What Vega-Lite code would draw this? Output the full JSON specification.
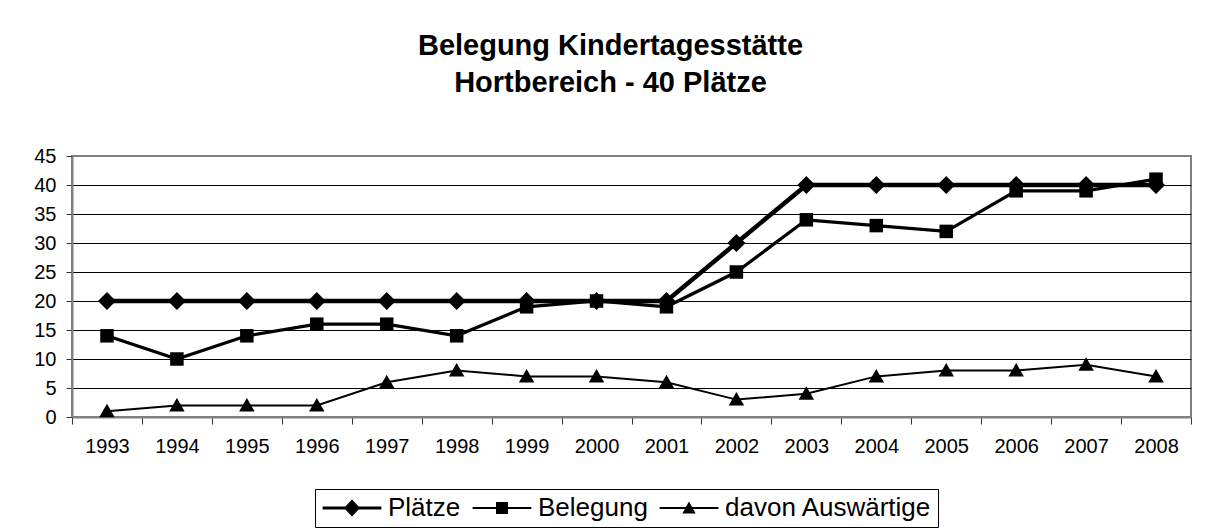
{
  "$schema": "https://vega.github.io/schema/vega-lite/v6.json",
  "autosize": "none",
  "width": 1119,
  "height": 261,
  "padding": {"left": 72, "top": 156, "right": 23, "bottom": 114},
  "background": "white",
  "title": {
    "text": ["Belegung Kindertagesstätte", "Hortbereich - 40 Plätze"],
    "font": "Liberation Sans",
    "fontSize": 29,
    "fontWeight": "bold",
    "color": "black",
    "anchor": "middle",
    "dx": -21,
    "offset": 48,
    "lineHeight": 37
  },
  "config": {
    "view": {"stroke": "#808080", "strokeWidth": 2},
    "font": "Liberation Sans"
  },
  "data": {
    "values": [
      {"year": "1993", "series": "Plätze", "value": 20},
      {"year": "1994", "series": "Plätze", "value": 20},
      {"year": "1995", "series": "Plätze", "value": 20},
      {"year": "1996", "series": "Plätze", "value": 20},
      {"year": "1997", "series": "Plätze", "value": 20},
      {"year": "1998", "series": "Plätze", "value": 20},
      {"year": "1999", "series": "Plätze", "value": 20},
      {"year": "2000", "series": "Plätze", "value": 20},
      {"year": "2001", "series": "Plätze", "value": 20},
      {"year": "2002", "series": "Plätze", "value": 30},
      {"year": "2003", "series": "Plätze", "value": 40},
      {"year": "2004", "series": "Plätze", "value": 40},
      {"year": "2005", "series": "Plätze", "value": 40},
      {"year": "2006", "series": "Plätze", "value": 40},
      {"year": "2007", "series": "Plätze", "value": 40},
      {"year": "2008", "series": "Plätze", "value": 40},
      {"year": "1993", "series": "Belegung", "value": 14},
      {"year": "1994", "series": "Belegung", "value": 10},
      {"year": "1995", "series": "Belegung", "value": 14},
      {"year": "1996", "series": "Belegung", "value": 16},
      {"year": "1997", "series": "Belegung", "value": 16},
      {"year": "1998", "series": "Belegung", "value": 14},
      {"year": "1999", "series": "Belegung", "value": 19},
      {"year": "2000", "series": "Belegung", "value": 20},
      {"year": "2001", "series": "Belegung", "value": 19},
      {"year": "2002", "series": "Belegung", "value": 25},
      {"year": "2003", "series": "Belegung", "value": 34},
      {"year": "2004", "series": "Belegung", "value": 33},
      {"year": "2005", "series": "Belegung", "value": 32},
      {"year": "2006", "series": "Belegung", "value": 39},
      {"year": "2007", "series": "Belegung", "value": 39},
      {"year": "2008", "series": "Belegung", "value": 41},
      {"year": "1993", "series": "davon Auswärtige", "value": 1},
      {"year": "1994", "series": "davon Auswärtige", "value": 2},
      {"year": "1995", "series": "davon Auswärtige", "value": 2},
      {"year": "1996", "series": "davon Auswärtige", "value": 2},
      {"year": "1997", "series": "davon Auswärtige", "value": 6},
      {"year": "1998", "series": "davon Auswärtige", "value": 8},
      {"year": "1999", "series": "davon Auswärtige", "value": 7},
      {"year": "2000", "series": "davon Auswärtige", "value": 7},
      {"year": "2001", "series": "davon Auswärtige", "value": 6},
      {"year": "2002", "series": "davon Auswärtige", "value": 3},
      {"year": "2003", "series": "davon Auswärtige", "value": 4},
      {"year": "2004", "series": "davon Auswärtige", "value": 7},
      {"year": "2005", "series": "davon Auswärtige", "value": 8},
      {"year": "2006", "series": "davon Auswärtige", "value": 8},
      {"year": "2007", "series": "davon Auswärtige", "value": 9},
      {"year": "2008", "series": "davon Auswärtige", "value": 7}
    ]
  },
  "encoding": {
    "x": {
      "field": "year",
      "type": "ordinal",
      "scale": {"type": "band", "paddingInner": 0, "paddingOuter": 0},
      "axis": {
        "title": null,
        "labelAngle": 0,
        "labelFontSize": 20,
        "labelColor": "black",
        "labelPadding": 12,
        "tickBand": "extent",
        "ticks": true,
        "tickSize": 7,
        "tickColor": "#333333",
        "domainColor": "#808080",
        "domainWidth": 2,
        "grid": false
      }
    },
    "y": {
      "field": "value",
      "type": "quantitative",
      "scale": {"domain": [0, 45], "nice": false},
      "axis": {
        "title": null,
        "values": [0, 5, 10, 15, 20, 25, 30, 35, 40, 45],
        "labelFontSize": 20,
        "labelColor": "black",
        "labelPadding": 10,
        "tickSize": 6,
        "tickColor": "#333333",
        "domainColor": "#808080",
        "domainWidth": 2,
        "grid": true,
        "gridColor": {"condition": {"test": "datum.value === 45", "value": "#808080"}, "value": "black"},
        "gridWidth": 1.2,
        "gridOpacity": 1
      }
    }
  },
  "layer": [
    {
      "mark": {"type": "line", "color": "black"},
      "encoding": {
        "detail": {"field": "series"},
        "strokeWidth": {
          "field": "series",
          "type": "nominal",
          "scale": {"domain": ["Plätze", "Belegung", "davon Auswärtige"], "range": [4.5, 2, 2]},
          "legend": null
        }
      }
    },
    {
      "mark": {"type": "point", "filled": true, "color": "black", "opacity": 1, "size": 100},
      "encoding": {
        "shape": {
          "field": "series",
          "type": "nominal",
          "scale": {
            "domain": ["Plätze", "Belegung", "davon Auswärtige"],
            "range": [
              "M0,-1.8L1.8,0L0,1.8L-1.8,0Z",
              "M-1.35,-1.35H1.35V1.35H-1.35Z",
              "M0,-1.5L1.55,1.2H-1.55Z"
            ]
          },
          "legend": null
        }
      }
    },
    {
      "mark": {"type": "point", "filled": true, "color": "black", "opacity": 0, "size": 144},
      "encoding": {
        "shape": {
          "field": "series",
          "type": "nominal",
          "scale": {
            "domain": ["Plätze", "Belegung", "davon Auswärtige"],
            "range": [
              "M-4.9,-0.27H4.9V0.27H-4.9ZM0,-1.4L1.35,0L0,1.4L-1.35,0Z",
              "M-4.9,-0.18H4.9V0.18H-4.9ZM-1,-1H1V1H-1Z",
              "M-4.9,-0.18H4.9V0.18H-4.9ZM0,-1.1L1.1,0.9H-1.1Z"
            ]
          },
          "legend": {
            "title": null,
            "orient": "none",
            "legendX": 243,
            "legendY": 333,
            "direction": "horizontal",
            "strokeColor": "black",
            "padding": 6,
            "labelFontSize": 26,
            "labelColor": "black",
            "labelLimit": 400,
            "labelOffset": 23,
            "symbolOffset": 18,
            "symbolSize": 144,
            "columnPadding": 8,
            "encode": {
              "symbols": {
                "update": {
                  "fill": {"value": "black"},
                  "opacity": {"value": 1}
                }
              }
            }
          }
        }
      }
    }
  ],
  "resolve": {"scale": {"shape": "independent"}, "legend": {"shape": "independent"}}
}
